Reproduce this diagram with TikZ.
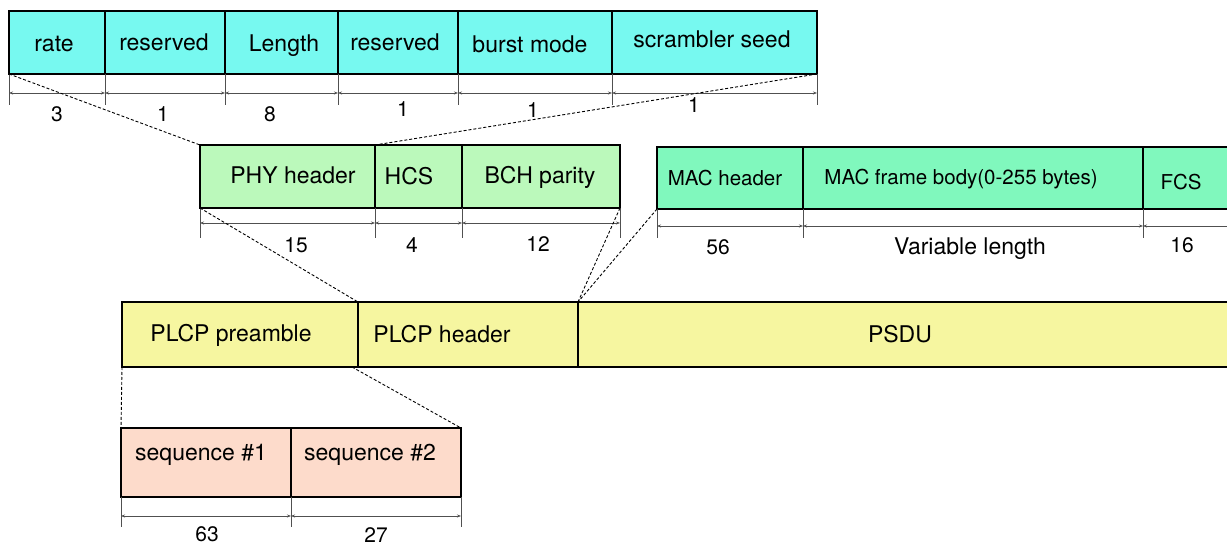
\documentclass[tikz,border=0pt]{standalone}
\usepackage{fontspec}
\setmainfont{TeX Gyre Heros}
\usetikzlibrary{arrows.meta}
\definecolor{phyfield}{HTML}{77F9F0}
\definecolor{plcphdr}{HTML}{BBF9BB}
\definecolor{macfield}{HTML}{80F8BD}
\definecolor{frame}{HTML}{F6F6A0}
\definecolor{preamble}{HTML}{FDDBCB}
\definecolor{dimgray}{HTML}{505050}
\begin{document}
\begin{tikzpicture}[x=1pt,y=-1pt,
  cell/.style={draw=black, line width=1.1pt, inner sep=0pt, outer sep=0pt, anchor=north west},
  txt/.style={anchor=base, inner sep=0pt, font=\fontsize{23}{27}\selectfont},
  mactxt/.style={anchor=base, inner sep=0pt, font=\fontsize{20.5}{24}\selectfont},
  dimtxt/.style={anchor=base, inner sep=0pt, font=\fontsize{21}{25}\selectfont},
  tick/.style={draw=dimgray, line width=0.8pt},
  dimline/.style={draw=dimgray, line width=0.8pt, {Stealth[length=4pt,width=3pt]}-{Stealth[length=4pt,width=3pt]}},
  zoomline/.style={draw=black, line width=0.9pt, dash pattern=on 3pt off 2pt}]
\useasboundingbox (0,0) rectangle (1227,545);

% ---------- PHY header fields ----------
\node[cell, fill=phyfield, minimum width=96, minimum height=63] (rate) at (9,11) {};
\node[cell, fill=phyfield, minimum width=120, minimum height=63] (resA) at (rate.north east) {};
\node[cell, fill=phyfield, minimum width=113, minimum height=63] (len) at (resA.north east) {};
\node[cell, fill=phyfield, minimum width=120, minimum height=63] (resB) at (len.north east) {};
\node[cell, fill=phyfield, minimum width=154, minimum height=63] (burst) at (resB.north east) {};
\node[cell, fill=phyfield, minimum width=205, minimum height=63] (seed) at (burst.north east) {};
\node[txt] (t-rate) at (54,52) {rate};
\node[txt] (t-resA) at (164,51) {reserved};
\node[txt] (t-len) at (284,52) {Length};
\node[txt] (t-resB) at (395,51) {reserved};
\node[txt] (t-burst) at (530,53) {burst mode};
\node[txt] (t-seed) at (712,48) {scrambler seed};
\foreach \n in {rate,resA,len,resB,burst,seed}
  \draw[tick] (\n.south west) -- ++(0,31);
\draw[tick] (seed.south east) -- ++(0,31);
\foreach \n in {rate,resA,len,resB,burst,seed}
  \draw[dimline] ([yshift=-19pt]\n.south west) -- ([yshift=-19pt]\n.south east);
\node[dimtxt] (d-rate) at (57,122) {3};
\node[dimtxt] (d-resA) at (163,122) {1};
\node[dimtxt] (d-len) at (270,122) {8};
\node[dimtxt] (d-resB) at (403,117) {1};
\node[dimtxt] (d-burst) at (533,118) {1};
\node[dimtxt] (d-seed) at (694,113) {1};

% ---------- PLCP header fields ----------
\node[cell, fill=plcphdr, minimum width=175, minimum height=63] (phy) at (200,145) {};
\node[cell, fill=plcphdr, minimum width=87, minimum height=63] (hcs) at (phy.north east) {};
\node[cell, fill=plcphdr, minimum width=158, minimum height=63] (bch) at (hcs.north east) {};
\node[txt] (t-phy) at (293,184) {PHY header};
\node[txt] (t-hcs) at (409,185) {HCS};
\node[txt] (t-bch) at (540,184) {BCH parity};
\foreach \n in {phy,hcs,bch}
  \draw[tick] (\n.south west) -- ++(0,30);
\draw[tick] (bch.south east) -- ++(0,30);
\foreach \n in {phy,hcs,bch}
  \draw[dimline] ([yshift=-15pt]\n.south west) -- ([yshift=-15pt]\n.south east);
\node[dimtxt] (d-phy) at (296,253) {15};
\node[dimtxt] (d-hcs) at (412,253) {4};
\node[dimtxt] (d-bch) at (538,252) {12};

% ---------- MAC frame fields ----------
\node[cell, fill=macfield, minimum width=146, minimum height=62] (machdr) at (657,147) {};
\node[cell, fill=macfield, minimum width=340, minimum height=62] (body) at (machdr.north east) {};
\node[cell, fill=macfield, minimum width=110, minimum height=62] (fcs) at (body.north east) {};
\node[mactxt] (t-machdr) at (725,186) {MAC header};
\node[mactxt] (t-body) at (961,185) {MAC frame body(0-255 bytes)};
\node[mactxt] (t-fcs) at (1181,190) {FCS};
\foreach \n in {machdr,body,fcs}
  \draw[tick] (\n.south west) -- ++(0,29);
\foreach \n in {machdr,body,fcs}
  \draw[dimline] ([yshift=-17pt]\n.south west) -- ([yshift=-17pt]\n.south east);
\node[dimtxt] (d-machdr) at (718,255) {56};
\node[txt] (d-body) at (970,255) {Variable length};
\node[dimtxt] (d-fcs) at (1182,253) {16};

% ---------- PPDU ----------
\node[cell, fill=frame, minimum width=236, minimum height=65] (pre) at (122,302) {};
\node[cell, fill=frame, minimum width=220, minimum height=65] (hdr) at (pre.north east) {};
\node[cell, fill=frame, minimum width=680, minimum height=65] (psdu) at (hdr.north east) {};
\node[txt] (t-pre) at (231,342) {PLCP preamble};
\node[txt] (t-hdr) at (442,343) {PLCP header};
\node[txt] (t-psdu) at (900,343) {PSDU};

% ---------- preamble sequences ----------
\node[cell, fill=preamble, minimum width=170, minimum height=69] (seqA) at (121,428) {};
\node[cell, fill=preamble, minimum width=170, minimum height=69] (seqB) at (seqA.north east) {};
\node[txt] (t-seqA) at (201,460) {sequence \#1};
\node[txt] (t-seqB) at (370,460) {sequence \#2};
\foreach \n in {seqA,seqB}
  \draw[tick] (\n.south west) -- ++(0,30);
\draw[tick] (seqB.south east) -- ++(0,30);
\foreach \n in {seqA,seqB}
  \draw[dimline] ([yshift=-19pt]\n.south west) -- ([yshift=-19pt]\n.south east);
\node[dimtxt] (d-seqA) at (207,541) {63};
\node[dimtxt] (d-seqB) at (376,542) {27};

% ---------- expansion lines ----------
\draw[zoomline] (rate.south west) -- (phy.north west);
\draw[zoomline] (seed.south east) -- (hcs.north west);
\draw[zoomline] (phy.south west) -- (hdr.north west);
\draw[zoomline] (bch.south east) -- (psdu.north west);
\draw[zoomline] (machdr.south west) -- (psdu.north west);
\draw[zoomline] (pre.south west) -- (seqA.north west);
\draw[zoomline] ([xshift=-6pt]pre.south east) -- (seqB.north east);
\end{tikzpicture}
\end{document}
